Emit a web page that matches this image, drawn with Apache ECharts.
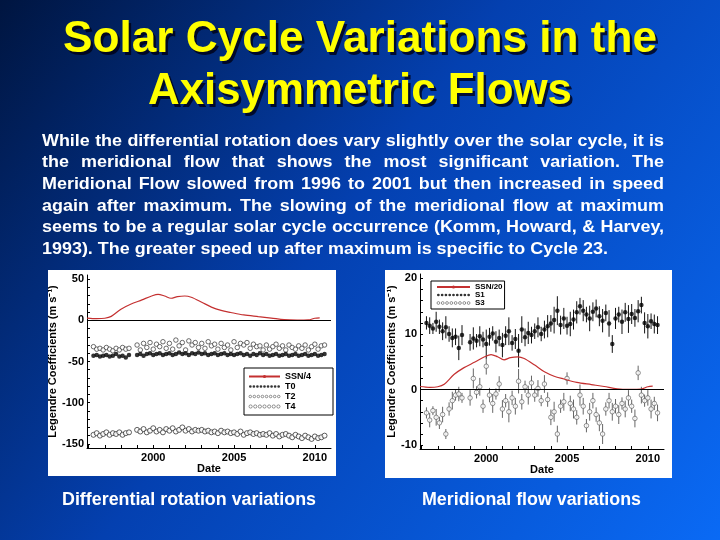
<!DOCTYPE html>
<html>
<head>
<meta charset="utf-8">
<script src="https://cdn.jsdelivr.net/npm/echarts@6/dist/echarts.min.js"></script>
<style>html,body{margin:0;padding:0;background:#0030a0}#c{width:720px;height:540px}</style>
</head>
<body>
<div id="c"></div>
<script>
// ---------- DATA ----------
const dates = [1996.3,1996.5,1996.7,1996.9,1997.1,1997.3,1997.5,1997.7,1997.9,1998.1,1998.3,1998.5,
1999.0,1999.2,1999.4,1999.6,1999.8,2000.0,2000.2,2000.4,2000.6,2000.8,
2001.0,2001.2,2001.4,2001.6,2001.8,2002.0,2002.2,2002.4,2002.6,2002.8,
2003.0,2003.2,2003.4,2003.6,2003.8,2004.0,2004.2,2004.4,2004.6,2004.8,
2005.0,2005.2,2005.4,2005.6,2005.8,2006.0,2006.2,2006.4,2006.6,2006.8,
2007.0,2007.2,2007.4,2007.6,2007.8,2008.0,2008.2,2008.4,2008.6,2008.8,
2009.0,2009.2,2009.4,2009.6,2009.8,2010.0,2010.2,2010.4,2010.6];

const ssnDates = [1995.9,1996.5,1997.0,1997.4,1998.0,1998.6,1999.3,1999.9,2000.3,2000.7,2001.1,2001.5,2001.95,2002.35,2003.0,2003.6,2004.2,2004.8,2005.6,2006.5,2007.3,2008.1,2008.9,2009.6,2010.0,2010.3];
const ssn = [11,8,10,19,54,78,99,118,126,118,107,115,118,112,88,64,48,38,26,18,11,3,1,2,10,12];

const t0 = [-43,-42,-44,-43,-42,-44,-43,-41,-44,-43,-45,-42,
-42,-41,-43,-41,-40,-42,-41,-40,-42,-41,
-40,-42,-41,-39,-41,-40,-42,-40,-41,-39,
-41,-40,-42,-41,-40,-42,-41,-40,-42,-41,
-42,-41,-40,-42,-41,-43,-41,-42,-40,-42,
-41,-43,-42,-41,-43,-42,-41,-43,-42,-41,
-43,-42,-41,-43,-42,-41,-43,-42,-41];

const t2 = [-32,-35,-34,-36,-33,-35,-37,-34,-36,-33,-35,-34,
-30,-36,-28,-33,-27,-35,-29,-32,-26,-34,
-28,-35,-24,-31,-27,-36,-25,-30,-27,-33,
-28,-34,-26,-31,-29,-35,-28,-33,-30,-36,
-26,-33,-28,-30,-27,-34,-29,-32,-31,-36,
-30,-35,-32,-29,-34,-31,-36,-30,-33,-35,
-31,-34,-30,-36,-32,-29,-35,-31,-30];

const t4 = [-139,-137,-140,-138,-136,-139,-137,-138,-136,-139,-137,-136,
-133,-135,-132,-136,-134,-131,-135,-133,-136,-132,
-134,-131,-135,-133,-130,-134,-132,-135,-133,-134,
-133,-135,-134,-136,-135,-137,-134,-136,-135,-137,
-136,-138,-135,-139,-137,-136,-138,-137,-139,-138,
-139,-137,-140,-138,-141,-139,-138,-140,-142,-139,
-141,-143,-140,-142,-144,-141,-143,-142,-140];

const s1 = [12.0,11.5,11.0,12.2,11.3,10.5,11.2,10.0,9.3,9.5,7.5,9.8,
8.5,9.2,8.8,9.6,9.0,8.2,9.5,10.1,8.6,9.3,
8.0,9.7,10.5,8.4,9.1,7.0,10.8,9.4,10.2,9.8,
10.5,11.2,10.0,10.8,11.4,11.9,12.5,14.2,11.6,12.8,
11.5,11.8,12.6,13.9,15.0,14.2,13.5,12.8,14.0,14.6,
13.2,12.4,13.8,11.9,8.2,12.8,13.5,12.2,13.9,12.7,
13.6,12.9,14.1,15.2,12.0,11.4,12.3,11.8,11.6];
const s1Err = [1.2,1.5,1.0,1.8,1.3,1.6,2.0,1.4,1.7,1.5,2.2,1.8,
1.5,2.0,1.2,1.8,1.4,2.6,1.6,1.3,1.9,1.5,
2.2,1.7,2.5,1.4,1.8,3.0,2.4,1.6,2.0,1.5,
1.4,1.8,1.3,1.6,2.0,1.5,2.4,2.6,1.7,1.9,
1.6,2.2,1.8,2.0,1.5,1.9,1.4,2.3,1.7,1.6,
1.8,2.1,1.5,2.4,1.6,1.9,1.4,2.2,1.7,2.5,
1.8,1.6,2.0,1.5,1.9,2.2,1.4,1.7,1.6];

const s3 = [-4.2,-5.5,-3.8,-5.0,-6.0,-4.5,-8.0,-3.5,-2.0,-1.0,-0.8,-1.5,
-1.5,2.0,-0.5,0.5,-3.0,4.2,-1.0,-2.5,-0.8,1.0,
-3.5,-2.0,-4.0,-1.5,-3.0,1.5,-2.2,0.5,-1.0,1.2,
-1.0,0.2,-2.0,1.0,-1.8,-5.0,-4.0,-8.0,-3.0,-2.2,
2.0,-2.5,-3.5,-5.0,-1.0,-3.0,-6.5,-4.0,-2.0,-4.5,
-6.0,-8.0,-3.5,-2.0,-4.0,-3.0,-4.5,-2.5,-3.5,-1.5,
-3.0,-5.2,3.0,-1.0,-2.0,-1.5,-3.5,-2.5,-4.2];
const s3Err = [1.0,1.3,0.8,1.5,1.1,1.4,0.9,1.2,1.6,1.0,1.3,0.9,
1.4,1.8,1.1,1.6,1.2,1.5,1.3,1.7,1.0,1.4,
1.6,1.2,1.9,1.3,1.5,2.2,1.4,1.1,1.7,1.3,
1.2,1.5,1.0,1.6,1.3,1.4,1.8,1.5,1.2,1.6,
1.1,1.4,1.7,1.3,1.9,1.5,1.2,1.6,1.4,1.3,
1.5,1.8,1.2,1.4,1.6,1.3,1.7,1.1,1.5,1.4,
1.2,1.6,1.3,1.5,1.1,1.4,1.7,1.2,1.5];

const yearTicks = [1996,1997,1998,1999,2000,2001,2002,2003,2004,2005,2006,2007,2008,2009,2010];
const xLabels = [2000,2005,2010];
const yTicksLeft = [-150,-140,-130,-120,-110,-100,-90,-80,-70,-60,-50,-40,-30,-20,-10,0,10,20,30,40,50];
const yLabelsLeft = [-150,-100,-50,0,50];
const yTicksRight = [-10,-8,-6,-4,-2,0,2,4,6,8,10,12,14,16,18,20];
const yLabelsRight = [-10,0,10,20];

const titleLines = ['Solar Cycle Variations in the','Axisymmetric Flows'];
const paraLines = [
 'While the differential rotation does vary slightly over the solar cycle, it is',
 'the meridional flow that shows the most significant variation. The',
 'Meridional Flow slowed from 1996 to 2001 but then increased in speed',
 'again after maximum. The slowing of the meridional flow at maximum',
 'seems to be a regular solar cycle occurrence (Komm, Howard, & Harvey,',
 '1993). The greater speed up after maximum is specific to Cycle 23.'
];
const captions = ['Differential rotation variations','Meridional flow variations'];
const yName = 'Legendre Coefficients (m s\u207B\u00B9)';

// ---------- LAYOUT / STYLE ----------
const FF = '"Liberation Sans", Arial, Helvetica, sans-serif';
const mctx = document.createElement('canvas').getContext('2d');
function measure(t, size){ mctx.font = 'bold ' + size + 'px "Liberation Sans", Arial, sans-serif'; return mctx.measureText(t).width; }

const graphics = [];
graphics.push({type:'rect', z:0, shape:{x:48,y:270,width:288,height:206}, style:{fill:'#fff'}});
graphics.push({type:'rect', z:0, shape:{x:385,y:270,width:287,height:208}, style:{fill:'#fff'}});

// title
const TFS = 45;
const titleSpecs = [{y:40, w:594},{y:92, w:424}];
titleLines.forEach((t,i)=>{
  const s = titleSpecs[i].w / measure(t, TFS);
  graphics.push({type:'text', z:5, x:362.5, y:titleSpecs[i].y+2.5, scaleX:s,
    style:{text:t, fill:'rgba(0,0,20,0.8)', fontSize:TFS, fontWeight:'bold', fontFamily:FF, align:'center', verticalAlign:'middle'}});
  graphics.push({type:'text', z:6, x:360, y:titleSpecs[i].y, scaleX:s,
    style:{text:t, fill:'#ffff00', fontSize:TFS, fontWeight:'bold', fontFamily:FF, align:'center', verticalAlign:'middle'}});
});

// paragraph (justified)
const PX = 42, PW = 622, PFS = 17;
let g = 566 / measure(paraLines[5], PFS);
for (let i=0;i<5;i++){ g = Math.min(g, PW / measure(paraLines[i], PFS)); }
paraLines.forEach((line,i)=>{
  const y = 141 + i*21.7;
  const words = line.split(' ');
  const spaceW = measure(' ', PFS) * g;
  const ws = words.map(w=>measure(w, PFS)*g);
  const sum = ws.reduce((a,b)=>a+b,0);
  const gap = (i < 5) ? (PW - sum)/(words.length-1) : spaceW;
  let x = PX;
  words.forEach((w,k)=>{
    graphics.push({type:'text', z:5, x:x, y:y, scaleX:g,
      style:{text:w, fill:'#fff', fontSize:PFS, fontWeight:'bold', fontFamily:FF, align:'left', verticalAlign:'middle'}});
    x += ws[k] + gap;
  });
});

// captions
const capSpecs = [{x:62,w:254},{x:422,w:219}];
captions.forEach((t,i)=>{
  const s = capSpecs[i].w / measure(t, 18);
  graphics.push({type:'text', z:5, x:capSpecs[i].x, y:500, scaleX:s,
    style:{text:t, fill:'#fff', fontSize:18, fontWeight:'bold', fontFamily:FF, align:'left', verticalAlign:'middle'}});
});

function dotsPath(n, r, gap){
  let s = '';
  for (let i=0;i<n;i++){
    const cx = r + i*gap;
    s += 'M' + (cx - r) + ',' + r + 'a' + r + ',' + r + ' 0 1,0 ' + (2*r) + ',0a' + r + ',' + r + ' 0 1,0 ' + (-2*r) + ',0';
  }
  return 'path://' + s;
}
const openIcon = {color:'#fff', borderColor:'#000', borderWidth:0.5};
const fillIcon = {color:'#000', borderWidth:0};

const axisText = {color:'#000', fontSize:11, fontWeight:'bold', fontFamily:FF};
const plainFmt = function(v){ return String(v); };
function xAxisFor(gi){
  return {gridIndex:gi, type:'value', min:1995.9, max:2011.0,
    name:'Date', nameLocation:'middle', nameGap:15, nameTextStyle:axisText,
    axisLine:{show:true, onZero:false, lineStyle:{color:'#000', width:1}},
    axisTick:{show:true, inside:true, length:3, customValues:yearTicks, lineStyle:{color:'#000'}},
    axisLabel:Object.assign({customValues:xLabels, margin:4, formatter:plainFmt}, axisText),
    splitLine:{show:false}};
}
function yAxisFor(gi, min, max, ticks, labels, gap){
  return {gridIndex:gi, type:'value', min:min, max:max,
    name:yName, nameLocation:'middle', nameGap:gap, nameRotate:90, nameTextStyle:axisText,
    axisLine:{show:true, onZero:false, lineStyle:{color:'#000', width:1}},
    axisTick:{show:true, inside:true, length:3, customValues:ticks, lineStyle:{color:'#000'}},
    axisLabel:Object.assign({customValues:labels, margin:3, formatter:plainFmt}, axisText),
    splitLine:{show:false}};
}
function errRender(color){
  return function(params, api){
    const x = api.value(0);
    const a = api.coord([x, api.value(1)]);
    const b = api.coord([x, api.value(2)]);
    return {type:'line', shape:{x1:a[0], y1:a[1], x2:b[0], y2:b[1]}, style:{stroke:color, lineWidth:1}};
  };
}
const zeroLine = {silent:true, symbol:['none','none'], label:{show:false},
  lineStyle:{color:'#000', width:1.2, type:'solid'}, data:[{yAxis:0}]};

const option = {
  animation:false,
  backgroundColor: new echarts.graphic.LinearGradient(0,0,1,1,[
    {offset:0, color:'#001540'},{offset:0.45, color:'#0440b0'},{offset:1, color:'#0a6af5'}]),
  graphic:{elements:graphics},
  grid:[
    {left:87, right:389, top:275, bottom:92, show:true, borderColor:'#000', borderWidth:1},
    {left:420, right:56, top:274, bottom:91, show:true, borderColor:'#000', borderWidth:1}
  ],
  xAxis:[xAxisFor(0), xAxisFor(1)],
  yAxis:[yAxisFor(0,-155,55,yTicksLeft,yLabelsLeft,24), yAxisFor(1,-10.7,20.8,yTicksRight,yLabelsRight,20)],
  legend:[
    {selectedMode:false, orient:'vertical', left:244, top:368, backgroundColor:'#fff', borderColor:'#000', borderWidth:1,
     padding:[4,22,4,4], itemGap:1, itemWidth:31, itemHeight:4,
     textStyle:{color:'#000', fontSize:9, fontWeight:'bold', fontFamily:FF},
     data:[{name:'SSN/4'},
           {name:'T0', icon:dotsPath(9,1.3,3.4), itemStyle:fillIcon},
           {name:'T2', icon:dotsPath(8,1.3,4.1), itemStyle:openIcon},
           {name:'T4', icon:dotsPath(7,1.6,4.6), itemStyle:openIcon}]},
    {selectedMode:false, orient:'vertical', left:431, top:281, backgroundColor:'#fff', borderColor:'#000', borderWidth:1,
     padding:[2,2,2,5], itemGap:0, itemWidth:33, itemHeight:4,
     textStyle:{color:'#000', fontSize:8, fontWeight:'bold', fontFamily:FF},
     data:[{name:'SSN/20'},
           {name:'S1', icon:dotsPath(9,1.3,3.6), itemStyle:fillIcon},
           {name:'S3', icon:dotsPath(8,1.4,4.3), itemStyle:openIcon}]}
  ],
  series:[
    {name:'SSN/4', type:'line', xAxisIndex:0, yAxisIndex:0, smooth:0.3, symbol:'none', z:4,
     data:ssnDates.map((d,i)=>[d, ssn[i]/4]), lineStyle:{color:'#c43030', width:1.2}, itemStyle:{color:'#c43030'},
     markLine:zeroLine},
    {name:'T4', type:'scatter', xAxisIndex:0, yAxisIndex:0, symbolSize:5, z:3,
     data:dates.map((d,i)=>[d, t4[i]]), itemStyle:{color:'#fff', borderColor:'#222', borderWidth:0.9}},
    {name:'T2', type:'scatter', xAxisIndex:0, yAxisIndex:0, symbolSize:4.5, z:3,
     data:dates.map((d,i)=>[d, t2[i]]), itemStyle:{color:'#fff', borderColor:'#333', borderWidth:0.9}},
    {name:'T0', type:'scatter', xAxisIndex:0, yAxisIndex:0, symbolSize:4.5, z:3,
     data:dates.map((d,i)=>[d, t0[i]]), itemStyle:{color:'#000'}},
    {name:'SSN/20', type:'line', xAxisIndex:1, yAxisIndex:1, smooth:0.3, symbol:'none', z:4,
     data:ssnDates.map((d,i)=>[d, ssn[i]/20]), lineStyle:{color:'#c43030', width:1.2}, itemStyle:{color:'#c43030'},
     markLine:zeroLine},
    {name:'S3 err', type:'custom', xAxisIndex:1, yAxisIndex:1, z:2, renderItem:errRender('#666'),
     encode:{x:0, y:[1,2]}, data:dates.map((d,i)=>[d, s3[i]-s3Err[i], s3[i]+s3Err[i]])},
    {name:'S3', type:'scatter', xAxisIndex:1, yAxisIndex:1, symbolSize:4.5, z:3,
     data:dates.map((d,i)=>[d, s3[i]]), itemStyle:{color:'#fff', borderColor:'#555', borderWidth:0.8}},
    {name:'S1 err', type:'custom', xAxisIndex:1, yAxisIndex:1, z:2, renderItem:errRender('#111'),
     encode:{x:0, y:[1,2]}, data:dates.map((d,i)=>[d, s1[i]-s1Err[i], s1[i]+s1Err[i]])},
    {name:'S1', type:'scatter', xAxisIndex:1, yAxisIndex:1, symbolSize:4.5, z:3,
     data:dates.map((d,i)=>[d, s1[i]]), itemStyle:{color:'#000'}}
  ]
};
const chart = echarts.init(document.getElementById('c'), null, {renderer:'canvas'});
chart.setOption(option);
</script>
</body>
</html>
